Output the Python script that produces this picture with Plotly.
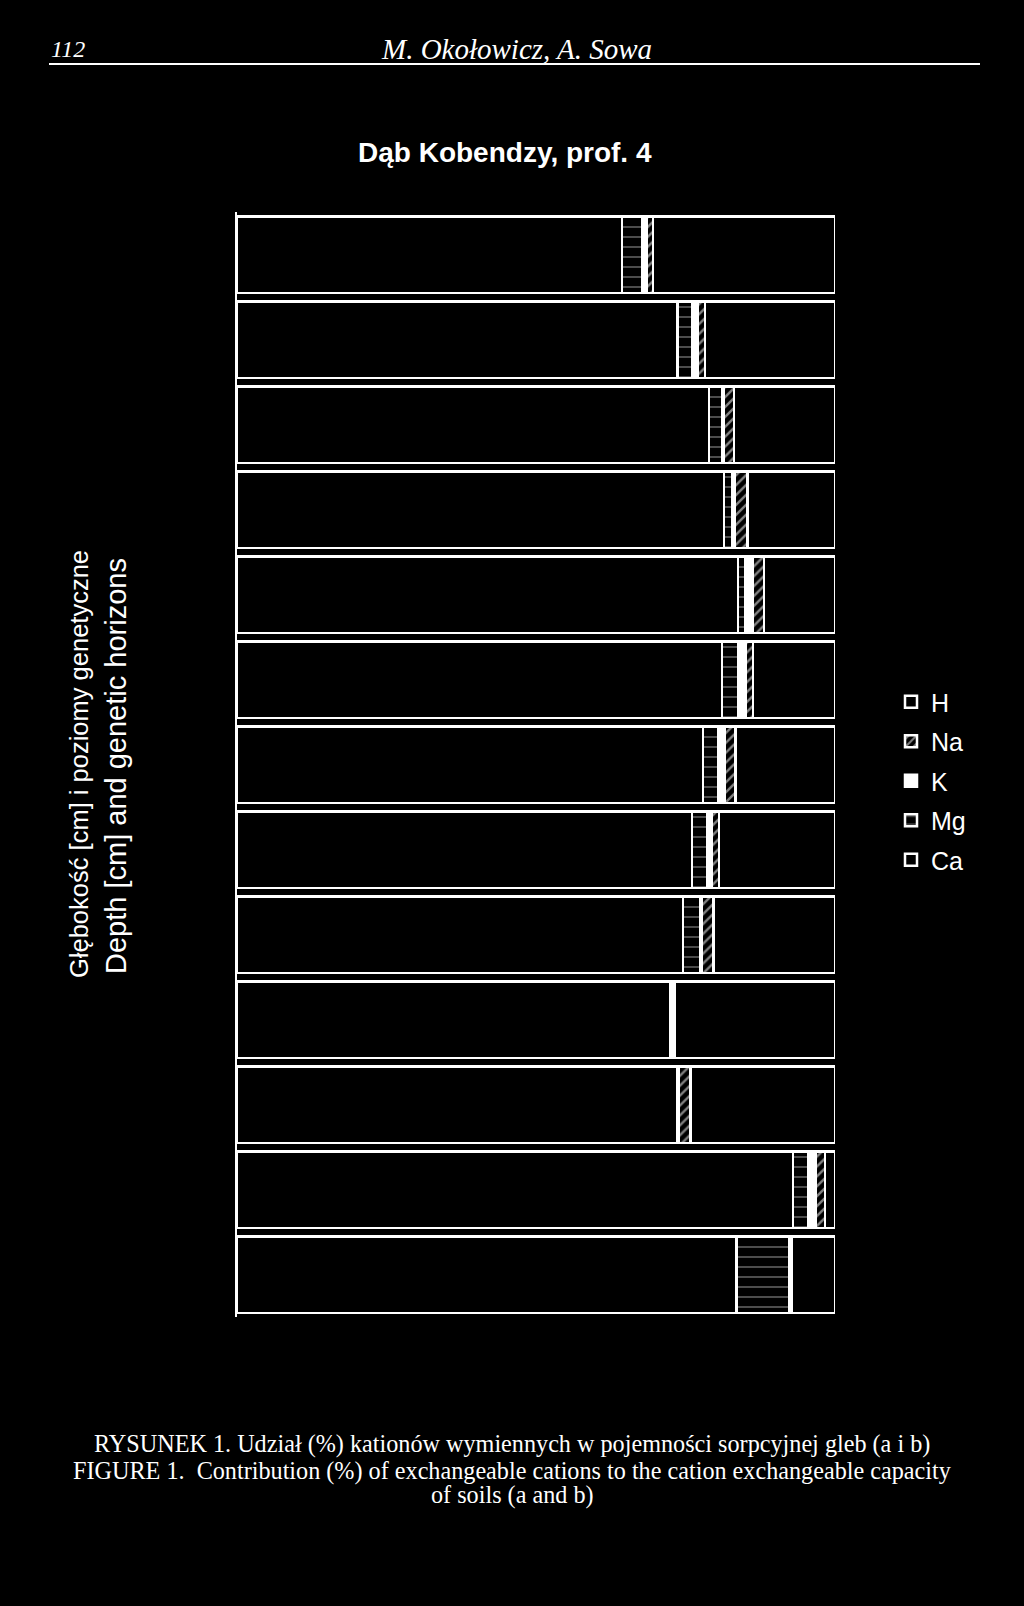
import plotly.graph_objects as go

# ---- data (% of CEC) ----
samples = ["1", "2", "3", "4", "5", "6", "7", "8", "9", "10", "11", "12", "13"]
Ca = [64.4, 73.7, 78.9, 81.4, 83.8, 81.1, 77.9, 76.1, 74.6, 72.4, 73.7, 93.0, 83.5]
Mg = [3.3, 2.5, 2.2, 1.5, 1.2, 2.7, 2.5, 2.5, 2.8, 0.3, 0.1, 2.6, 8.8]
K = [0.9, 0.8, 0.3, 0.3, 1.3, 1.2, 1.2, 0.8, 0.3, 0.2, 0.1, 1.2, 0.2]
Na = [1.0, 1.3, 1.7, 2.2, 1.8, 1.3, 1.8, 1.2, 2.0, 0.3, 1.9, 1.5, 0.2]
H = [30.4, 21.7, 16.9, 14.6, 11.9, 13.7, 16.6, 19.4, 20.3, 26.8, 24.2, 1.7, 7.3]

W, HGT = 1024, 1606
L, R, T, B = 237, 835, 212, 1317


def px(x):
    return (x - L) / (R - L)


def py(y):
    return (B - y) / (B - T)


fig = go.Figure()
line = dict(color="white", width=2.5)
series = [
    ("Ca", Ca, dict(color="black", line=line)),
    ("Mg", Mg, dict(color="black", line=line,
                    pattern=dict(shape="-", fgcolor="white", bgcolor="black", size=10, solidity=0.12))),
    ("K", K, dict(color="white", line=line)),
    ("Na", Na, dict(color="black", line=line,
                    pattern=dict(shape="/", fgcolor="white", bgcolor="black", size=7, solidity=0.35))),
    ("H", H, dict(color="black", line=line)),
]
n = len(series)
for i, (name, vals, marker) in enumerate(series):
    fig.add_trace(go.Bar(y=samples, x=vals, name=name, orientation="h", marker=marker,
                         legendgroup=name, legendrank=n - i))

fig.update_layout(
    width=W, height=HGT,
    margin=dict(l=L, r=W - R, t=T, b=HGT - B),
    paper_bgcolor="black", plot_bgcolor="black",
    barmode="stack", bargap=0.1,
    font=dict(family="Liberation Sans, Arial", color="white"),
    showlegend=True,
    legend=dict(traceorder="grouped", tracegroupgap=4,
                x=px(891), y=py(679), xanchor="left", yanchor="top",
                font=dict(size=25, color="white"), bgcolor="rgba(0,0,0,0)", itemwidth=30),
    xaxis=dict(range=[0, 100], showticklabels=False, showgrid=False, zeroline=False,
               showline=False, ticks=""),
    yaxis=dict(categoryorder="array", categoryarray=samples, autorange="reversed",
               showticklabels=False, showgrid=False, zeroline=False,
               showline=True, linecolor="white", linewidth=2, ticks=""),
)

ann = []
serif = "Liberation Serif, Times New Roman"
ann.append(dict(text="<i>112</i>", x=px(49), y=py(49), xanchor="left", yanchor="middle",
                font=dict(family=serif, size=24)))
ann.append(dict(text="<i>M. Okołowicz, A. Sowa</i>", x=px(516), y=py(49), xanchor="center",
                yanchor="middle", font=dict(family=serif, size=29)))
ann.append(dict(text="<b>Dąb Kobendzy, prof. 4</b>", x=px(505), y=py(153), xanchor="center",
                yanchor="middle", font=dict(family="Liberation Sans, Arial", size=28)))
ann.append(dict(text="Głębokość [cm] i poziomy genetyczne", x=px(79), y=py(764), textangle=-90,
                xanchor="center", yanchor="middle", font=dict(size=25.5)))
ann.append(dict(text="Depth [cm] and genetic horizons", x=px(116), y=py(766), textangle=-90,
                xanchor="center", yanchor="middle", font=dict(size=29)))
caps = [
    ("RYSUNEK 1. Udział (%) kationów wymiennych w pojemności sorpcyjnej gleb (a i b)", 1444),
    ("FIGURE 1.  Contribution (%) of exchangeable cations to the cation exchangeable capacity", 1471),
    ("of soils (a and b)", 1495),
]
for t, yy in caps:
    ann.append(dict(text=t, x=px(512), y=py(yy), xanchor="center", yanchor="middle",
                    font=dict(family=serif, size=24.2)))
for a in ann:
    a.update(xref="paper", yref="paper", showarrow=False)
fig.update_layout(annotations=ann)

fig.add_shape(type="line", xref="paper", yref="paper", x0=px(49), x1=px(980), y0=py(64), y1=py(64),
              line=dict(color="white", width=2))

fig.write_html("out.html", config={"displayModeBar": False},
               post_script="document.body.style.margin='0';document.body.style.background='black';")
